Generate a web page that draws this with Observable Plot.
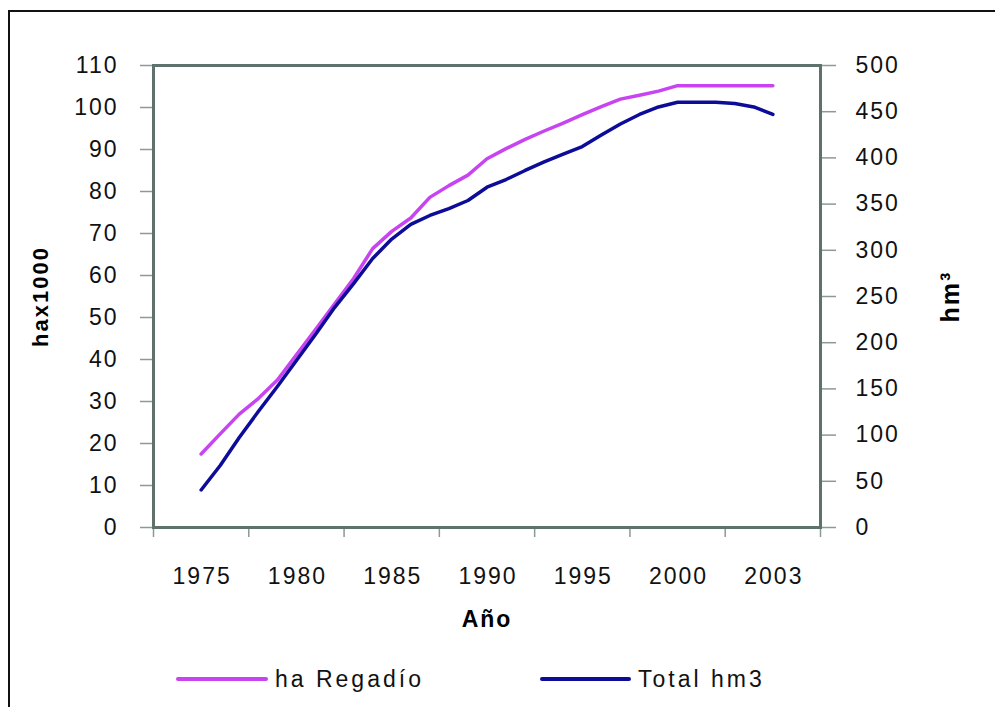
<!DOCTYPE html>
<html>
<head>
<meta charset="utf-8">
<script src="https://cdn.jsdelivr.net/npm/d3@7"></script>
<script src="https://cdn.jsdelivr.net/npm/@observablehq/plot@0.6"></script>
<style>
  html, body { margin: 0; padding: 0; background: #fff; }
  #wrap { position: relative; width: 995px; height: 707px; overflow: hidden; font-family: "Liberation Sans", Arial, sans-serif; }
  #border { position: absolute; left: 8px; top: 10px; right: -10px; bottom: -10px; border-left: 2.5px solid #111; border-top: 2.5px solid #111; pointer-events: none; }
  #chart svg text { letter-spacing: 2px; }
  #legend { position: absolute; top: 661px; left: 0; width: 995px; height: 36px; font-size: 23px; color: #111; }
  .item { position: absolute; top: 0; display: flex; align-items: center; height: 36px; letter-spacing: 3px; }
  .swatch { display: inline-block; height: 4px; border-radius: 2px; margin-right: 7px; }
</style>
</head>
<body>
<div id="wrap">
  <div id="chart"></div>
  <div id="border"></div>
  <div id="legend">
    <div class="item" style="left:176px"><span class="swatch" style="width:92px;background:#c844f0"></span>ha Regadío</div>
    <div class="item" style="left:540px"><span class="swatch" style="width:91px;background:#0c0c99"></span>Total hm3</div>
  </div>
</div>
<script>
// Category positions (one per data point) and the labels shown every five points
const categoryIndex = [0,1,2,3,4,5,6,7,8,9,10,11,12,13,14,15,16,17,18,19,20,21,22,23,24,25,26,27,28,29,30];
const tickPositions = [0, 5, 10, 15, 20, 25, 30];
const tickLabels = ["1975", "1980", "1985", "1990", "1995", "2000", "2003"];

// ha Regadío (ha x 1000) — left axis
const haRegadio = [17.5, 22.3, 27.0, 30.7, 35.1, 41.1, 47.1, 53.2, 59.3, 66.4,
                   70.5, 73.7, 78.6, 81.4, 83.9, 87.8, 90.2, 92.4, 94.4, 96.3,
                   98.3, 100.2, 102.0, 102.9, 103.9, 105.2, 105.2, 105.2, 105.2, 105.2, 105.2];
// Total hm3 — right axis
const totalHm3 = [40.6, 67.1, 97.4, 125.5, 152.6, 180.7, 208.9, 238.0, 264.0, 291.1,
                  312.2, 328.0, 337.7, 345.2, 353.9, 368.3, 376.6, 386.4, 395.6, 404.2,
                  412.3, 424.8, 436.7, 447.0, 455.1, 460.3, 460.3, 460.3, 458.9, 455.1, 447.0];

const leftTicks = [0, 10, 20, 30, 40, 50, 60, 70, 80, 90, 100, 110];
const rightTicks = [0, 50, 100, 150, 200, 250, 300, 350, 400, 450, 500];
const categoryBoundaries = [-2.5, 2.5, 7.5, 12.5, 17.5, 22.5, 27.5, 32.5];

const LEFT_MAX = 110, RIGHT_MAX = 500;
const toLeft = v => v * LEFT_MAX / RIGHT_MAX;

const rows = categoryIndex.map((c, k) => ({ c, ha: haRegadio[k], hm: toLeft(totalHm3[k]) }));

const purple = "#c844f0";
const navy = "#0c0c99";
const axisGray = "#8b9997";
const font = "'Liberation Sans', Arial, sans-serif";

const chart = Plot.plot({
  width: 995,
  height: 707,
  marginLeft: 153,
  marginRight: 175,
  marginTop: 65,
  marginBottom: 180,
  x: { domain: [-2.5, 32.5], label: null, axis: null },
  y: { domain: [0, LEFT_MAX], label: null, axis: null },
  style: { fontFamily: font, fontSize: "23px", color: "#111", background: "transparent", overflow: "visible" },
  marks: [
    Plot.axisY(leftTicks, { anchor: "left", tickSize: 13, tickPadding: 22, stroke: axisGray, strokeWidth: 1.5, fill: "#111", fontSize: 23, label: null }),
    Plot.axisY(rightTicks.map(toLeft), { anchor: "right", tickSize: 15, tickPadding: 20, stroke: axisGray, strokeWidth: 1.5, fill: "#111", fontSize: 23, tickFormat: d => String(Math.round(d * RIGHT_MAX / LEFT_MAX)), label: null }),
    Plot.axisX(categoryBoundaries, { anchor: "bottom", tickSize: 10, stroke: axisGray, strokeWidth: 1.5, fill: null, label: null }),
    Plot.axisX(tickPositions, { anchor: "bottom", tickSize: 0, tickPadding: 40, fill: "#111", fontSize: 23, dx: 1, tickFormat: d => tickLabels[tickPositions.indexOf(d)], label: null }),
    Plot.frame({ stroke: "#5f716d", strokeWidth: 3 }),
    Plot.line(rows, { x: "c", y: "ha", stroke: purple, strokeWidth: 3.5, strokeLinecap: "round", strokeLinejoin: "round" }),
    Plot.line(rows, { x: "c", y: "hm", stroke: navy, strokeWidth: 3.5, strokeLinecap: "round", strokeLinejoin: "round" }),
    Plot.text(["hax1000"], { frameAnchor: "left", dx: -113, rotate: -90, text: d => d, fontWeight: "bold", fontSize: 22, fill: "#000", textAnchor: "middle", lineAnchor: "middle" }),
    Plot.text(["hm³"], { frameAnchor: "right", dx: 130, rotate: -90, text: d => d, fontWeight: "bold", fontSize: 25, fill: "#000", textAnchor: "middle", lineAnchor: "middle" }),
    Plot.text(["Año"], { frameAnchor: "bottom", dy: 92, text: d => d, fontWeight: "bold", fontSize: 23, fill: "#000", textAnchor: "middle", lineAnchor: "middle" })
  ]
});
document.getElementById("chart").appendChild(chart);
</script>
</body>
</html>
